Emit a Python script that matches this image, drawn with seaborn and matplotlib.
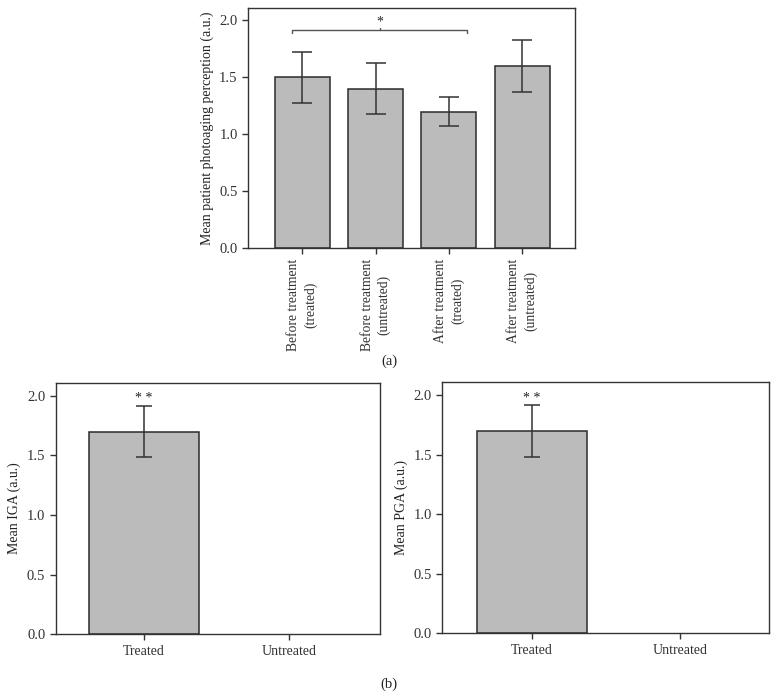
import numpy as np
import pandas as pd
import matplotlib
matplotlib.use('Agg')
import matplotlib.pyplot as plt
import seaborn as sns

# data
groups_a = ['Before treatment\n(treated)', 'Before treatment\n(untreated)',
            'After treatment\n(treated)', 'After treatment\n(untreated)']
means_a = [1.50, 1.40, 1.20, 1.60]
err_a = [0.225, 0.225, 0.13, 0.225]

groups_b = ['Treated', 'Untreated']
iga_means = [1.70, 0.0]
iga_err = [0.215, 0.0]
pga_means = [1.70, 0.0]
pga_err = [0.215, 0.0]

sns.set_style('ticks')
plt.rcParams['font.family'] = ['Liberation Serif', 'DejaVu Serif']
plt.rcParams['axes.edgecolor'] = '#333333'
plt.rcParams['xtick.color'] = '#333333'
plt.rcParams['ytick.color'] = '#333333'
plt.rcParams['text.color'] = '#222222'
plt.rcParams['axes.labelcolor'] = '#222222'

bar_col = '#bbbbbb'
edge_col = '#2b2b2b'

fig = plt.figure(figsize=(7.78, 7.0), dpi=100)
ax_a = fig.add_axes([0.3188, 0.6457, 0.4203, 0.3429])
ax_l = fig.add_axes([0.0716, 0.0939, 0.4168, 0.3594])
ax_r = fig.add_axes([0.5685, 0.0953, 0.4199, 0.3586])


def bars(ax, cats, vals, errs, width, cap):
    df = pd.DataFrame({'group': cats, 'value': vals})
    sns.barplot(data=df, x='group', y='value', color=bar_col, width=width,
                edgecolor=edge_col, linewidth=1.1, saturation=1, errorbar=None, ax=ax)
    # no outline for empty bars
    for p in ax.patches:
        if p.get_height() == 0:
            p.set_linewidth(0)
    for i, (v, e) in enumerate(zip(vals, errs)):
        if e > 0:
            ax.errorbar(i, v, yerr=e, fmt='none', ecolor='#333333',
                        elinewidth=1.1, capsize=cap, capthick=1.1)
    for s in ax.spines.values():
        s.set_linewidth(1.0)
    ax.set_ylim(0, 2.11)
    ax.set_yticks([0, 0.5, 1.0, 1.5, 2.0])
    ax.set_yticklabels(['0.0', '0.5', '1.0', '1.5', '2.0'], fontsize=10.5)
    ax.set_xlabel('')
    ax.tick_params(length=4, width=1)


# (a)
bars(ax_a, groups_a, means_a, err_a, 0.75, 7)
ax_a.set_xlim(-0.74, 3.72)
ax_a.set_ylabel('Mean patient photoaging perception (a.u.)', fontsize=10)
ax_a.set_xticks(range(4))
ax_a.set_xticklabels(groups_a, rotation=90, fontsize=9.8, ha='center',
                     va='top', multialignment='center', linespacing=1.35)
# significance bracket
xl, xr, yb = -0.14, 2.25, 1.918
ax_a.plot([xl, xl, xr, xr], [yb - 0.03, yb, yb, yb - 0.03], color='#555555', lw=1)
ax_a.plot([1.06, 1.06], [yb, yb + 0.015], color='#555555', lw=1)
ax_a.text(1.06, yb + 0.015, '*', ha='center', va='bottom', fontsize=10)

# (b)
bars(ax_l, groups_b, iga_means, iga_err, 0.76, 5.5)
ax_l.set_xlim(-0.61, 1.625)
ax_l.set_ylabel('Mean IGA (a.u.)', fontsize=10)
ax_l.set_xticks([0, 1])
ax_l.set_xticklabels(groups_b, fontsize=10)
ax_l.text(0, iga_means[0] + iga_err[0] + 0.005, '* *', ha='center', va='bottom', fontsize=10)

bars(ax_r, groups_b, pga_means, pga_err, 0.745, 5.5)
ax_r.set_xlim(-0.605, 1.6)
ax_r.set_ylabel('Mean PGA (a.u.)', fontsize=10)
ax_r.set_xticks([0, 1])
ax_r.set_xticklabels(groups_b, fontsize=10)
ax_r.text(0, pga_means[0] + pga_err[0] + 0.005, '* *', ha='center', va='bottom', fontsize=10)

fig.text(389 / 778, 1 - 361 / 700, '(a)', ha='center', va='center', fontsize=10.5)
fig.text(389 / 778, 1 - 684 / 700, '(b)', ha='center', va='center', fontsize=10.5)

fig.savefig('out.png', dpi=100)
